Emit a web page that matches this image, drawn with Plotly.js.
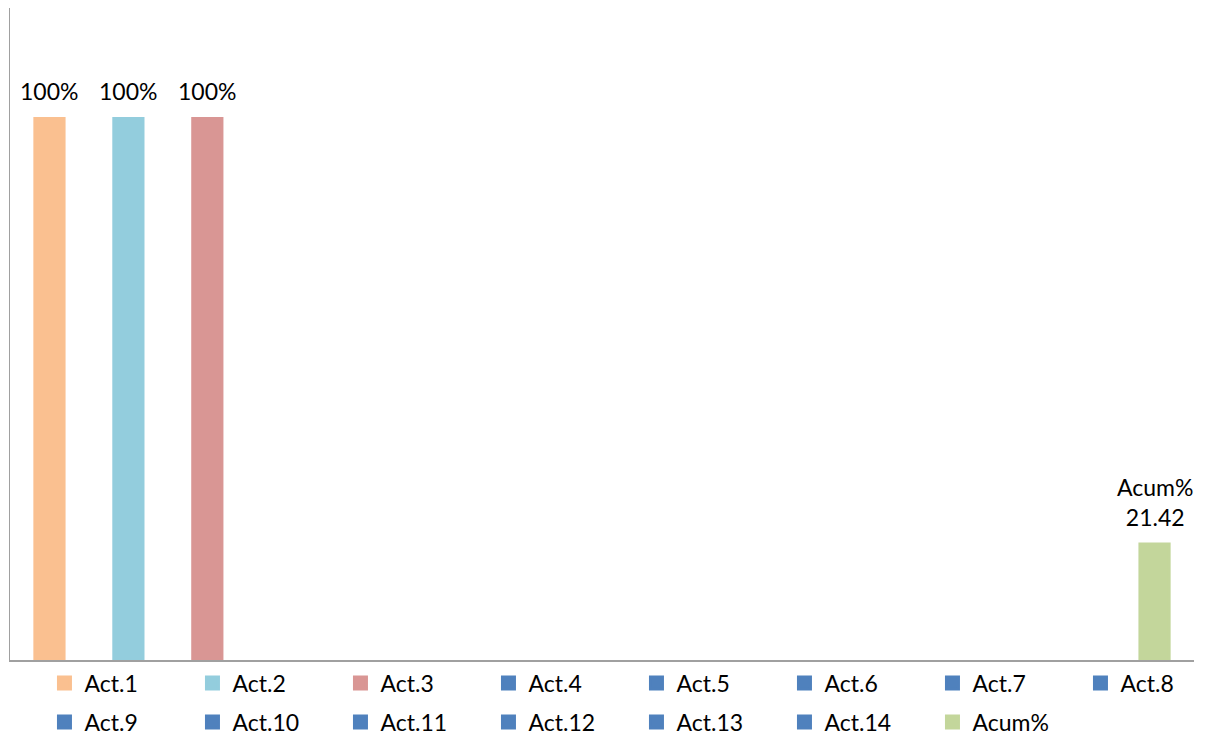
<!DOCTYPE html>
<html>
<head>
<meta charset="utf-8">
<script src="https://cdn.plot.ly/plotly-3.0.1.min.js"></script>
<style>html,body{margin:0;padding:0;background:#fff;}#chart{width:1205px;height:735px;}</style>
</head>
<body>
<div id="chart"></div>
<script>
const categories = ['Act.1','Act.2','Act.3','Act.4','Act.5','Act.6','Act.7','Act.8','Act.9','Act.10','Act.11','Act.12','Act.13','Act.14','Acum%'];
const values = [100,100,100,0,0,0,0,0,0,0,0,0,0,0,21.42];
const labels = ['100%','100%','100%','','','','','','','','','','','','Acum%<br>21.42'];
const seriesColors = ['#FAC090','#93CDDD','#D99694','#4F81BD','#4F81BD','#4F81BD','#4F81BD','#4F81BD','#4F81BD','#4F81BD','#4F81BD','#4F81BD','#4F81BD','#4F81BD','#C3D69B'];

const FONT = 'Lato, "Open Sans", sans-serif';
const ROW1 = 8;

const traces = categories.map((c, i) => {
  const t = {
    type: 'bar',
    name: c,
    x: [c],
    // zero-height bars are left blank (as in the reference) so their outline is not drawn
    y: [values[i] === 0 ? null : values[i]],
    width: 0.37,
    marker: {color: seriesColors[i], line: {color: seriesColors[i], width: 3}},
    legend: i < ROW1 ? 'legend' : 'legend2',
    hoverinfo: 'skip'
  };
  if (i === ROW1 - 1) t.legendwidth = 60;
  if (i === categories.length - 1) t.legendwidth = 80;
  return t;
});

const annotations = categories.map((c, i) => labels[i] ? ({
  x: c, y: values[i], xref: 'x', yref: 'y',
  text: labels[i], showarrow: false,
  yanchor: 'bottom', yshift: 11,
  font: {family: FONT, size: 23, color: '#000'}
}) : null).filter(a => a);

const legendCommon = {
  orientation: 'h', xanchor: 'left', yanchor: 'middle',
  xref: 'container', yref: 'container',
  entrywidth: 103, entrywidthmode: 'pixels',
  font: {family: FONT, size: 23, color: '#000'},
  bgcolor: 'rgba(0,0,0,0)', traceorder: 'normal'
};

const layout = {
  width: 1205, height: 735,
  margin: {l: 10, r: 11, t: 8, b: 75},
  paper_bgcolor: '#fff', plot_bgcolor: '#fff',
  barmode: 'overlay',
  showlegend: true,
  xaxis: {
    type: 'category', categoryorder: 'array', categoryarray: categories,
    showticklabels: false, ticks: '', showgrid: false, zeroline: false,
    showline: true, linecolor: '#a0a0a0', linewidth: 1.5,
    range: [-0.5, categories.length - 0.5], fixedrange: true
  },
  yaxis: {
    range: [0, 120.4], showticklabels: false, ticks: '', showgrid: false, zeroline: false,
    showline: true, linecolor: '#a0a0a0', linewidth: 1.5, fixedrange: true
  },
  legend: Object.assign({x: 0.0369, y: 0.0707}, legendCommon),
  legend2: Object.assign({x: 0.0369, y: 0.0177}, legendCommon),
  annotations: annotations,
  font: {family: FONT, color: '#000'}
};

Plotly.newPlot('chart', traces, layout, {displayModeBar: false, staticPlot: true});
</script>
</body>
</html>
